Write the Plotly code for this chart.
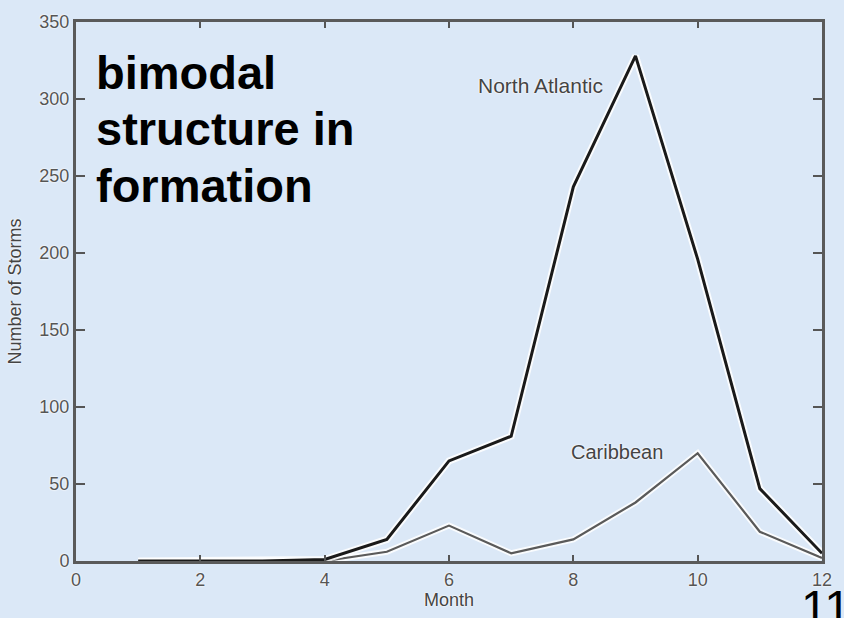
import plotly.graph_objects as go

months = [1, 2, 3, 4, 5, 6, 7, 8, 9, 10, 11, 12]
north_atlantic = [0, 0, 0, 1, 14, 65, 81, 243, 328, 196, 47, 5]
caribbean = [0, 0, 0, 0, 6, 23, 5, 14, 38, 70, 19, 2]
x_ticks = [0, 2, 4, 6, 8, 10, 12]
y_ticks = [0, 50, 100, 150, 200, 250, 300, 350]
big_text_lines = ["bimodal", "structure in", "formation"]

BG = "#dbe8f7"
FONT = "Liberation Sans, Arial, sans-serif"
HALO = "0px 0px 2px white, 0px 0px 2px white"

# plot-area pixel geometry
L, R, T, B = 76, 823, 16, 562
W, H = 844, 618


def px_x(p):
    return (p - L) / (R - L)


def px_y(p):
    return (B - p) / (B - T)


fig = go.Figure()

fig.add_trace(go.Scatter(x=months, y=caribbean, mode="lines",
                         line=dict(color="rgba(255,255,255,0.85)", width=6),
                         hoverinfo="skip", showlegend=False))
fig.add_trace(go.Scatter(x=months, y=caribbean, mode="lines", name="Caribbean",
                         line=dict(color="#5a5a5a", width=2.2), showlegend=False))
fig.add_trace(go.Scatter(x=months, y=north_atlantic, mode="lines",
                         line=dict(color="rgba(255,255,255,0.85)", width=7),
                         hoverinfo="skip", showlegend=False))
fig.add_trace(go.Scatter(x=months, y=north_atlantic, mode="lines", name="North Atlantic",
                         line=dict(color="#1a1a1a", width=3), showlegend=False))

tickfont = dict(family=FONT, size=18, color="#555555", shadow=HALO)

fig.update_xaxes(range=[0, 12], tickvals=x_ticks, ticktext=[str(v) for v in x_ticks],
                 showgrid=False, zeroline=False, showline=True, linecolor="#5a5a5a",
                 linewidth=3, mirror="ticks", ticks="inside", ticklen=6, tickwidth=2,
                 tickcolor="#555555", tickfont=tickfont,
                 title=dict(text="Month", font=dict(family=FONT, size=18, color="#444444", shadow=HALO),
                            standoff=4))
fig.update_yaxes(range=[0, 350], tickvals=y_ticks, ticktext=[str(v) for v in y_ticks],
                 showgrid=False, zeroline=False, showline=True, linecolor="#5a5a5a",
                 linewidth=3, mirror="ticks", ticks="inside", ticklen=9, tickwidth=2,
                 tickcolor="#555555", tickfont=tickfont,
                 title=dict(text="Number of Storms", font=dict(family=FONT, size=18, color="#444444", shadow=HALO),
                            standoff=14))

fig.add_annotation(x=7.47, y=309, xref="x", yref="y", text="North Atlantic", showarrow=False,
                   font=dict(family=FONT, size=21, color="#444444", shadow=HALO))
fig.add_annotation(x=8.7, y=70.5, xref="x", yref="y", text="Caribbean", showarrow=False,
                   font=dict(family=FONT, size=20, color="#444444", shadow=HALO))

for i, line in enumerate(big_text_lines):
    top_px = 38 + i * 57.5
    fig.add_annotation(x=px_x(94), y=px_y(top_px), xref="paper", yref="paper",
                       xanchor="left", yanchor="top", align="left", showarrow=False,
                       text="<b>" + line + "</b>",
                       font=dict(family=FONT, size=47, color="black"))

fig.add_annotation(x=px_x(800), y=px_y(580), xref="paper", yref="paper",
                   xanchor="left", yanchor="top", showarrow=False, text="11",
                   font=dict(family=FONT, size=48, color="black"))

fig.update_layout(width=W, height=H, paper_bgcolor=BG, plot_bgcolor=BG,
                  margin=dict(l=L, r=W - R, t=T, b=H - B), showlegend=False)

fig.write_html("out.html", config={"displayModeBar": False},
               post_script="document.body.style.margin='0';document.body.style.overflow='hidden';"
                           "document.body.style.background='" + BG + "';")
